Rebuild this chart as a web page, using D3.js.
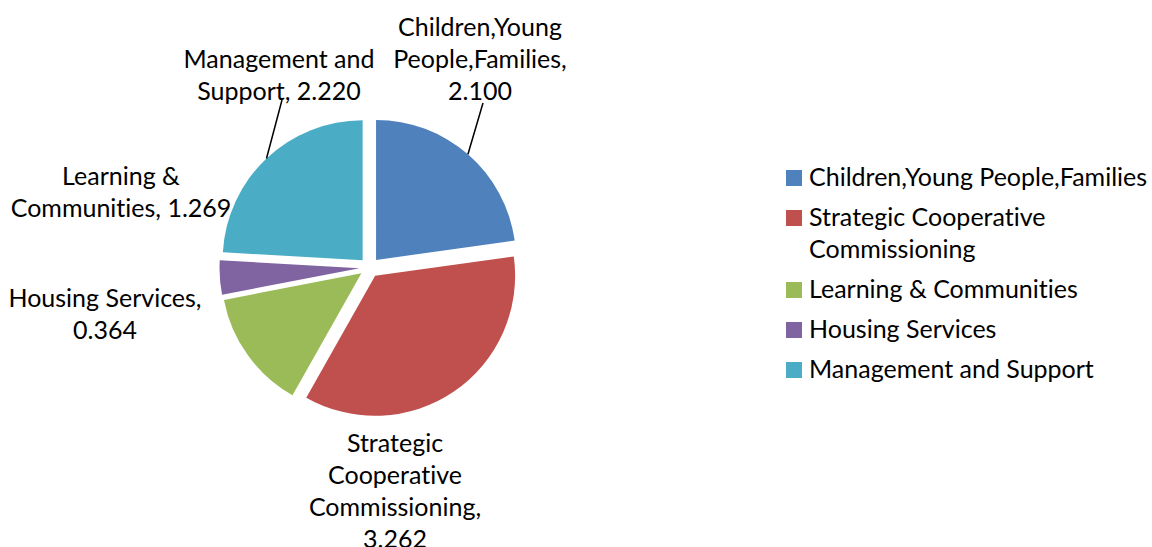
<!DOCTYPE html>
<html><head><meta charset="utf-8">
<script src="https://cdn.jsdelivr.net/npm/d3@7"></script>
<style>
body{margin:0;background:#fff}
text{font-family:Lato,"Open Sans",sans-serif;font-size:25px;fill:#000;font-variant-ligatures:none;font-feature-settings:"liga" 0,"clig" 0}
</style></head>
<body><svg id="c" width="1152" height="547"></svg>
<script>
// Budget by service area
const categories = ["Children,Young People,Families","Strategic Cooperative Commissioning","Learning & Communities","Housing Services","Management and Support"];
const values = [2.100, 3.262, 1.269, 0.364, 2.220];
const colors = ["#4F81BD","#C0504D","#9BBB59","#8064A2","#4BACC6"];
// how each data label wraps; {v} is replaced by the value
const labelWraps = ["Children,Young\nPeople,Families,\n{v}","Strategic\nCooperative\nCommissioning,\n{v}","Learning &\nCommunities, {v}","Housing Services,\n{v}","Management and\nSupport, {v}"];
// legend wraps
const legendWraps = ["Children,Young People,Families","Strategic Cooperative\nCommissioning","Learning & Communities","Housing Services","Management and Support"];

const cx = 369.5, cy = 267.5, R = 140, explode = 10, lineH = 32;
const svg = d3.select("#c");

const pie = d3.pie().sort(null).startAngle(0).endAngle(2*Math.PI).value(d => d.value);
const data = categories.map((c,i)=>({name:c,value:values[i],color:colors[i],wrap:labelWraps[i]}));
const arcs = pie(data);
const arc = d3.arc().innerRadius(0).outerRadius(R);

// point along a slice's bisector at distance r from the centre
function offset(a, r){ const m=(a.startAngle+a.endAngle)/2; return [Math.sin(m)*r, -Math.cos(m)*r]; }

// exploded slices
const g = svg.append("g").attr("transform",`translate(${cx},${cy})`);
g.selectAll("path.slice").data(arcs).join("path")
  .attr("class","slice")
  .attr("transform", d => { const [x,y]=offset(d,explode); return `translate(${x},${y})`; })
  .attr("d", arc)
  .attr("fill", d => d.data.color);

// label placement (first baseline, centred)
const labelPos = [[480,36],[395,452],[121,185],[105,307],[279,68]];
// leader lines for labels that sit away from their slice
const leaderEnds = {0:[483,103], 4:[282,100]};

arcs.forEach((a,i)=>{
  if(leaderEnds[i]){
    const [ox,oy] = offset(a, explode);
    const [px,py] = offset(a, R);
    svg.append("line")
      .attr("x1", cx+ox+px).attr("y1", cy+oy+py)
      .attr("x2", leaderEnds[i][0]).attr("y2", leaderEnds[i][1])
      .attr("stroke","#000").attr("stroke-width",1.5);
  }
  const lines = a.data.wrap.replace("{v}", d3.format(".3f")(a.data.value)).split("\n");
  const t = svg.append("text").attr("text-anchor","middle");
  lines.forEach((s,k)=>t.append("tspan").attr("x",labelPos[i][0]).attr("y",labelPos[i][1]+k*lineH).text(s));
});

// legend
const lg = svg.append("g").attr("transform","translate(786,0)");
let y = 186;
legendWraps.forEach((w,i)=>{
  const lines = w.split("\n");
  lg.append("rect").attr("x",0).attr("y",y-16).attr("width",16).attr("height",16).attr("fill",colors[i]);
  const t = lg.append("text");
  lines.forEach((s,k)=>t.append("tspan").attr("x",23).attr("y",y+k*lineH).text(s));
  y += (lines.length-1)*lineH + 40;
});
</script></body></html>
